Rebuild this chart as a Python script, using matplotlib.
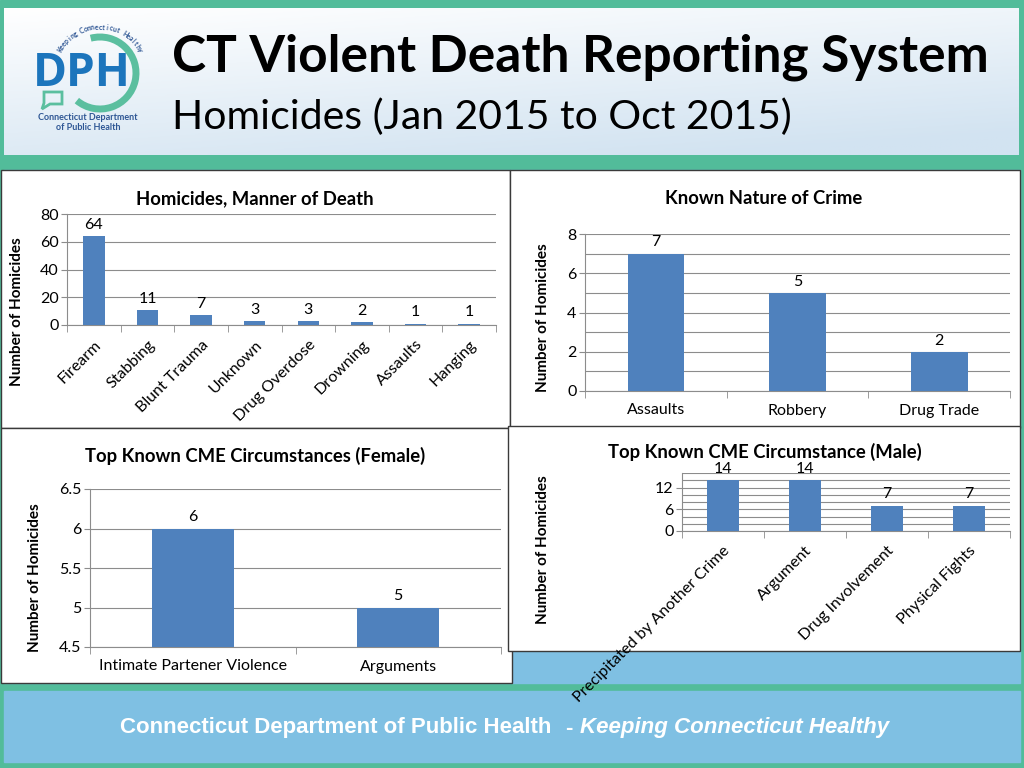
import numpy as np
import matplotlib
matplotlib.use("Agg")
import matplotlib.pyplot as plt
from matplotlib.patches import Rectangle, Arc, Polygon
from matplotlib.colors import LinearSegmentedColormap

# data
manner_labels = ["Firearm", "Stabbing", "Blunt Trauma", "Unknown", "Drug Overdose",
                 "Drowning", "Assaults", "Hanging"]
manner_counts = [64, 11, 7, 3, 3, 2, 1, 1]

crime_labels = ["Assaults", "Robbery", "Drug Trade"]
crime_counts = [7, 5, 2]

female_labels = ["Intimate Partener Violence", "Arguments"]
female_counts = [6, 5]

male_labels = ["Precipitated by Another Crime", "Argument", "Drug Involvement", "Physical Fights"]
male_counts = [14, 14, 7, 7]

W, H = 1024, 768
BAR = "#4f81bd"
TEAL = "#52bc9a"
BLUE = "#7fc0e3"
GRID = "#8c8c8c"
FS = 11.5

plt.rcParams["font.family"] = ["Lato", "DejaVu Sans"]

fig = plt.figure(figsize=(W / 100, H / 100), dpi=100)


def rect(x0, y0, x1, y1):
    # pixel box (top-left origin) -> figure fraction
    return [x0 / W, 1 - y1 / H, (x1 - x0) / W, (y1 - y0) / H]


bg = fig.add_axes([0, 0, 1, 1])
bg.set_xlim(0, W)
bg.set_ylim(H, 0)
bg.axis("off")
bg.add_patch(Rectangle((0, 0), W, H, color=TEAL, zorder=0))

# header with soft gradient
yy, xx = np.mgrid[0:1:60j, 0:1:200j]
shade = np.clip(0.75 * yy + 0.35 * xx, 0, 1)
cmap = LinearSegmentedColormap.from_list("hdr", ["#ffffff", "#d2e3f1"])
bg.imshow(shade, cmap=cmap, extent=(4, 1019, 155, 8), aspect="auto", zorder=1)

bg.add_patch(Rectangle((4, 170), 1016, 513, color=BLUE, zorder=1))
bg.add_patch(Rectangle((4, 691), 1016, 71, color=BLUE, zorder=1))

# chart panels
for (x0, y0, x1, y1) in [(1, 170, 510, 428), (510, 170, 1020, 428),
                         (1, 428, 512, 683), (508, 426, 1020, 651)]:
    bg.add_patch(Rectangle((x0, y0), x1 - x0, y1 - y0, facecolor="white",
                           edgecolor="#3a3a3a", lw=1, zorder=2))

# logo
cx, cy, r = 100, 73, 36
bg.add_patch(Arc((cx, cy), 2 * r, 2 * r, theta1=-105, theta2=130, color="#5bbf9f", lw=5, zorder=3))
bg.add_patch(Polygon([(44, 92), (62, 92), (62, 104), (50, 104), (42, 109), (44, 103)],
                     closed=True, fill=False, edgecolor="#5bbf9f", lw=2, zorder=3))
bg.text(82, 74, "DPH", color="#1c75bc", fontsize=33, fontweight="bold",
        ha="center", va="center", family="Open Sans", zorder=4)
bg.text(88, 118, "Connecticut Department", color="#2e5694", fontsize=6.5, fontweight="bold",
        ha="center", va="center", zorder=4)
bg.text(88, 128, "of Public Health", color="#2e5694", fontsize=6.5, fontweight="bold",
        ha="center", va="center", zorder=4)
arc_txt = "Keeping Connecticut Healthy"
angs = np.linspace(150, 30, len(arc_txt))
for ch, a in zip(arc_txt, angs):
    t = np.radians(a)
    bg.text(cx + 46 * np.cos(t), cy - 46 * np.sin(t), ch, rotation=a - 90,
            ha="center", va="center", fontsize=5, fontweight="bold",
            color="#2e5694", zorder=4)

# header titles
bg.text(172, 57, "CT Violent Death Reporting System", fontsize=37, fontweight="bold",
        ha="left", va="center", color="black", zorder=4)
bg.text(172, 117, "Homicides (Jan 2015 to Oct 2015)", fontsize=29.5,
        ha="left", va="center", color="black", zorder=4)

# footer
foot_fam = ["Liberation Sans Narrow", "Liberation Sans"]
bg.text(551, 728, "Connecticut Department of Public Health", fontsize=16,
        fontweight="bold", color="white", ha="right", va="center", family=foot_fam, zorder=4)
bg.text(569, 728, "-", fontsize=16, fontweight="bold", color="white",
        ha="center", va="center", family=foot_fam, zorder=4)
bg.text(580, 728, "Keeping Connecticut Healthy", fontsize=16, fontweight="bold",
        style="italic", color="white", ha="left", va="center", family=foot_fam, zorder=4)


def bar_chart(box, labels, values, ylim, major, minor, rot=0):
    ax = fig.add_axes(rect(*box))
    ax.set_zorder(5)
    ax.patch.set_alpha(0)
    x = np.arange(len(labels))
    ax.bar(x, values, width=0.4, color=BAR, zorder=3)
    for xi, v in zip(x, values):
        ax.annotate(str(v), (xi, v), xytext=(0, 3), textcoords="offset points",
                    ha="center", va="bottom", fontsize=FS)
    ax.set_xlim(-0.5, len(labels) - 0.5)
    ax.set_ylim(*ylim)
    ax.set_yticks(major)
    ax.set_yticks(minor, minor=True)
    ax.grid(axis="y", which="both", color=GRID, lw=0.8, zorder=0)
    ax.set_xticks(x)
    if rot:
        ax.set_xticklabels(labels, rotation=rot, ha="right", rotation_mode="anchor")
    else:
        ax.set_xticklabels(labels)
    ax.set_xticks(np.arange(len(labels) + 1) - 0.5, minor=True)
    ax.tick_params(axis="x", which="major", length=0, labelsize=FS, pad=9)
    ax.tick_params(axis="x", which="minor", length=5, color=GRID)
    ax.tick_params(axis="y", which="major", length=4, color=GRID, labelsize=FS, pad=2)
    ax.tick_params(axis="y", which="minor", length=0)
    for s in ["top", "right"]:
        ax.spines[s].set_visible(False)
    for s in ["left", "bottom"]:
        ax.spines[s].set_color(GRID)
    return ax


ax1 = bar_chart((67, 214, 496, 325), manner_labels, manner_counts, (0, 80),
                [0, 20, 40, 60, 80], [], rot=45)
ax2 = bar_chart((585, 234, 1010, 391), crime_labels, crime_counts, (0, 8),
                [0, 2, 4, 6, 8], [1, 3, 5, 7])
ax3 = bar_chart((90, 489, 501, 647), female_labels, female_counts, (4.5, 6.5),
                [4.5, 5, 5.5, 6, 6.5], [])
ax4 = bar_chart((682, 473, 1010, 531), male_labels, male_counts, (0, 16),
                [0, 6, 12], [2, 4, 8, 10, 14, 16], rot=45)
ax3.set_yticklabels(["4.5", "5", "5.5", "6", "6.5"])

# chart titles and axis labels (pixel placement)
titles = [(255, 199, "Homicides, Manner of Death"),
          (764, 199, "Known Nature of Crime"),
          (255, 456, "Top Known CME Circumstances (Female)"),
          (765, 452, "Top Known CME Circumstance (Male)")]
for tx, ty, s in titles:
    bg.text(tx, ty, s, fontsize=13.3, fontweight="bold", ha="center", va="center", zorder=6)

ylabels = [(17, 312), (543, 318), (35, 578), (543, 550)]
for lx, ly in ylabels:
    bg.text(lx, ly, "Number of Homicides", rotation=90, fontsize=11, fontweight="bold",
            ha="center", va="center", zorder=6)

fig.savefig("out.png", dpi=100)
